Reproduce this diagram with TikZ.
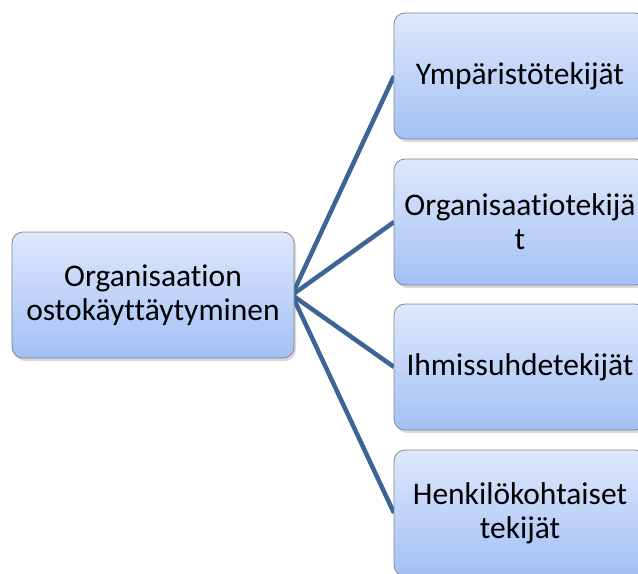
\documentclass[tikz,border=0pt]{standalone}
\usepackage{fontspec}
\setmainfont{Carlito}[Ligatures=NoCommon]
\usetikzlibrary{shadows}
\definecolor{boxtop}{RGB}{222,232,251}
\definecolor{boxbot}{RGB}{163,192,245}
\definecolor{boxline}{RGB}{130,135,145}
\definecolor{conn}{RGB}{60,100,150}
\tikzset{
  box/.style={draw=boxline, line width=0.8bp, rounded corners=11bp,
    top color=boxtop, bottom color=boxbot,
    drop shadow={shadow xshift=2bp, shadow yshift=-3bp, opacity=0.25, fill=black!60},
    minimum height=126bp, align=center, inner sep=0pt,
    font=\fontsize{31.5bp}{34bp}\selectfont},
  leftbox/.style={box, minimum width=282bp},
  rightbox/.style={box, minimum width=252bp},
  conline/.style={draw=conn, line width=4.5bp}
}
\begin{document}
\begin{tikzpicture}[x=1bp,y=-1bp]
\useasboundingbox (0,0) rectangle (638,574);
\coordinate (hub) at (292,295);
\draw[conline] (hub) -- (394,76);
\draw[conline] (hub) -- (394,222);
\draw[conline] (hub) -- (394,367);
\draw[conline] (hub) -- (394,513);
\node[leftbox] (main) at (153,295) {Organisaation\\ostokäyttäytyminen};
\node[rightbox] (r1) at (520,76) {Ympäristötekijät};
\node[rightbox] (r2) at (520,222) {Organisaatiotekijä\\t};
\node[rightbox] (r3) at (520,367) {Ihmissuhdetekijät};
\node[rightbox] (r4) at (520,513) {Henkilökohtaiset\\tekijät};
\end{tikzpicture}
\end{document}
